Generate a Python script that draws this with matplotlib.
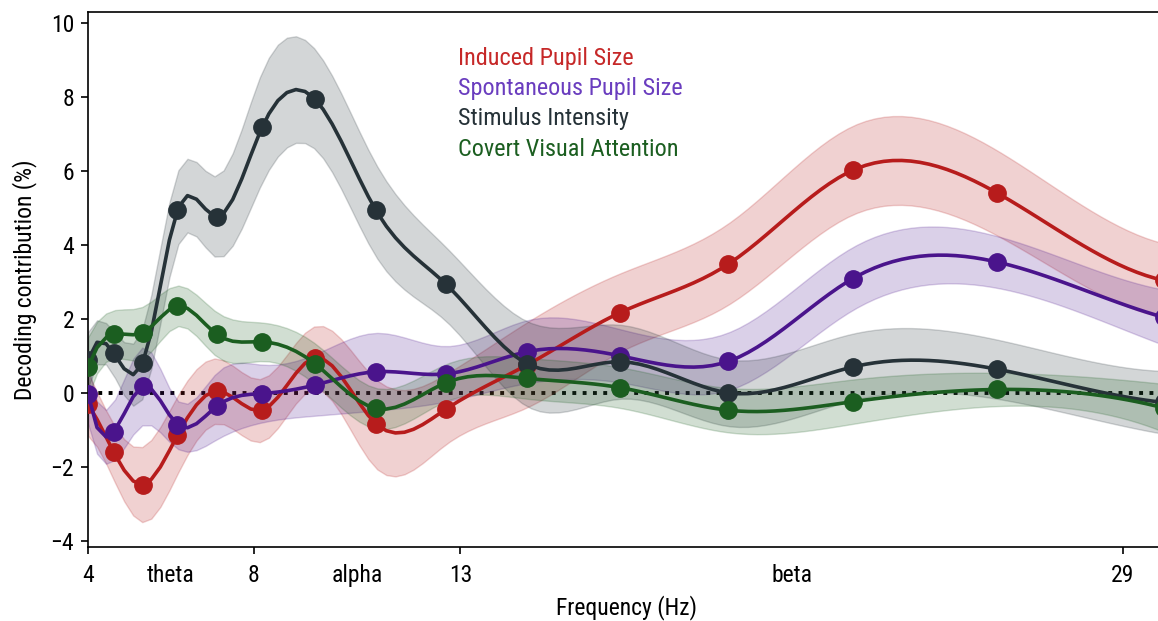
import numpy as np
import matplotlib
matplotlib.use("Agg")
import matplotlib.pyplot as plt
from matplotlib.ticker import FixedLocator, FixedFormatter

plt.rcParams['font.family'] = ['Roboto Condensed', 'Roboto', 'DejaVu Sans']

# ---------------- data ----------------
freqs = [4.0, 4.62, 5.33, 6.16, 7.11, 8.21, 9.48, 10.95, 12.64, 14.6, 16.86, 19.47, 22.48, 25.96, 30.0]

induced = [-0.3, -1.59, -2.47, -1.14, 0.06, -0.46, 0.96, -0.82, -0.44, 0.76, 2.18, 3.49, 6.03, 5.42, 3.05]
induced_err = [0.85, 0.75, 1.02, 1.05, 0.88, 0.85, 0.85, 1.2, 0.95, 1.15, 1.06, 1.1, 1.2, 1.15, 1.0]

spont = [-0.02, -1.04, 0.19, -0.85, -0.35, -0.01, 0.22, 0.58, 0.52, 1.12, 1.01, 0.86, 3.1, 3.55, 2.05]
spont_err = [0.8, 0.8, 1.05, 0.65, 0.9, 0.78, 0.83, 1.05, 0.75, 0.85, 0.72, 0.78, 0.85, 0.7, 0.75]

stim = [0.9, 1.08, 0.83, 4.96, 4.77, 7.2, 7.96, 4.96, 2.96, 0.8, 0.85, 0.01, 0.71, 0.65, -0.25]
stim_err = [0.75, 0.6, 0.95, 1.0, 1.1, 1.5, 1.35, 1.25, 1.0, 1.15, 1.0, 0.9, 0.9, 0.8, 0.85]

covert = [0.71, 1.59, 1.64, 2.36, 1.59, 1.39, 0.8, -0.41, 0.28, 0.4, 0.15, -0.46, -0.23, 0.1, -0.4]
covert_err = [0.8, 0.65, 0.7, 0.55, 0.6, 0.52, 0.55, 0.55, 0.5, 0.55, 0.55, 0.6, 0.6, 0.45, 0.65]

labels = ["Induced Pupil Size", "Spontaneous Pupil Size", "Stimulus Intensity", "Covert Visual Attention"]
colors = ["#b71c1c", "#4a148c", "#263238", "#1b5e20"]
text_colors = ["#c62828", "#6a3dbf", "#263238", "#1b5e20"]

major_ticks = [4, 8, 13, 29]
major_labels = ["4", "8", "13", "29"]
band_ticks = [6, 10.5, 21]
band_labels = ["theta", "alpha", "beta"]


def spline(x, y, xs):
    """Not-a-knot cubic spline evaluated at xs (rendering only)."""
    x = np.asarray(x, float); y = np.asarray(y, float)
    n = len(x); h = np.diff(x)
    A = np.zeros((n, n)); r = np.zeros(n)
    for i in range(1, n - 1):
        A[i, i - 1] = h[i - 1]
        A[i, i] = 2 * (h[i - 1] + h[i])
        A[i, i + 1] = h[i]
        r[i] = 6 * ((y[i + 1] - y[i]) / h[i] - (y[i] - y[i - 1]) / h[i - 1])
    A[0, 0] = -1 / h[0]; A[0, 1] = 1 / h[0] + 1 / h[1]; A[0, 2] = -1 / h[1]
    A[-1, -3] = -1 / h[-2]; A[-1, -2] = 1 / h[-2] + 1 / h[-1]; A[-1, -1] = -1 / h[-1]
    M = np.linalg.solve(A, r)
    idx = np.clip(np.searchsorted(x, xs) - 1, 0, n - 2)
    x0, x1 = x[idx], x[idx + 1]; hh = x1 - x0
    return (M[idx] * (x1 - xs) ** 3 / (6 * hh) + M[idx + 1] * (xs - x0) ** 3 / (6 * hh)
            + (y[idx] / hh - M[idx] * hh / 6) * (x1 - xs)
            + (y[idx + 1] / hh - M[idx + 1] * hh / 6) * (xs - x0))


W, H = 1158, 621
fig = plt.figure(figsize=(W / 100, H / 100), dpi=100)
ax = fig.add_axes([88 / W, 74 / H, (1164 - 88) / W, (609 - 74) / H])

xs = np.linspace(freqs[0], freqs[-1], 120)

ax.axhline(0, color="black", ls=":", lw=2.8, zorder=1)

series = [(induced, induced_err), (spont, spont_err), (stim, stim_err), (covert, covert_err)]
for k, ((vals, err), c) in enumerate(zip(series, colors)):
    v = np.asarray(vals); e = np.asarray(err)
    lo = spline(freqs, v - e, xs)
    hi = spline(freqs, v + e, xs)
    mid = spline(freqs, v, xs)
    ax.fill_between(xs, lo, hi, color=c, alpha=0.2, lw=1, zorder=2 + k * 0.1)
    ax.plot(xs, mid, color=c, lw=2.6, zorder=3 + k * 0.1)
    ax.plot(freqs, v, "o", color=c, ms=12.5, zorder=3 + k * 0.1)

ax.set_xlim(4, 30)
ax.set_ylim(-4.16, 10.31)
ax.set_yticks([-4, -2, 0, 2, 4, 6, 8, 10])
ax.xaxis.set_major_locator(FixedLocator(major_ticks))
ax.xaxis.set_major_formatter(FixedFormatter(major_labels))
ax.xaxis.set_minor_locator(FixedLocator(band_ticks))
ax.xaxis.set_minor_formatter(FixedFormatter(band_labels))
ax.tick_params(axis="x", which="minor", length=0, labelsize=17, pad=12)
ax.tick_params(axis="x", which="major", length=5, width=1.2, labelsize=17, pad=7)
ax.tick_params(axis="y", which="major", length=5, width=1.2, labelsize=17, pad=5)
for s in ax.spines.values():
    s.set_linewidth(1.2)

ax.set_xlabel("Frequency (Hz)", fontsize=17, labelpad=6)
ax.set_ylabel("Decoding contribution (%)", fontsize=17, labelpad=10)

for i, (lab, tc) in enumerate(zip(labels, text_colors)):
    ax.text((458 - 88) / 1076, 1 - (59 - 12 + i * 30) / 535, lab, color=tc,
            fontsize=17.5, ha="left", va="center", transform=ax.transAxes)

fig.savefig("out.png", dpi=100)
